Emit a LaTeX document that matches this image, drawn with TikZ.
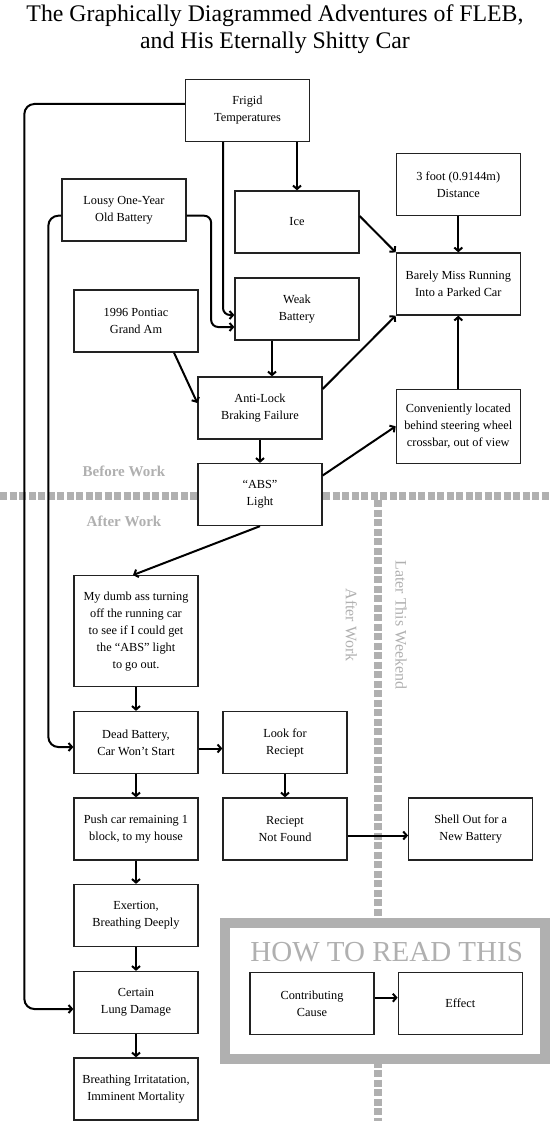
\documentclass[tikz,border=0pt]{standalone}
\usepackage{fontspec}
\setmainfont{Liberation Serif}
\usetikzlibrary{arrows.meta,calc}
\definecolor{fog}{RGB}{176,176,176}
\definecolor{ink}{RGB}{34,34,34}

\begin{document}
\begin{tikzpicture}[x=1pt,y=-1pt,
  box/.style={draw=ink,line width=1.3pt,fill=white,minimum width=124pt,minimum height=62pt,inner sep=0pt,align=center,font=\fontsize{12.3}{17}\selectfont},
  link/.style={line width=2pt,-{Straight Barb[length=3.5pt,width=8pt]}},
  zone/.style={fog,line width=7.5pt,dash pattern=on 7.3pt off 2.2pt},
  tag/.style={text=fog,font=\fontsize{16}{16}\selectfont}]
\useasboundingbox (0,0) rectangle (550,1121);
% title
\node[align=center,font=\fontsize{23.8}{27.5}\selectfont] (title) at (275,29) {The Graphically Diagrammed Adventures of FLEB,\\and His Eternally Shitty Car};
% time zones
\draw[zone] (0,496) -- (550,496);
\draw[zone] (378,500) -- (378,1121);
\node[tag,font=\fontsize{15}{15}\bfseries] (before) at (124,471) {Before Work};
\node[tag,font=\fontsize{15}{15}\bfseries] (after) at (124,521) {After Work};
\node[tag,rotate=-90] (afterv) at (351.5,625) {After Work};
\node[tag,rotate=-90] (later) at (401,625) {Later This Weekend};
% causes and effects
\foreach \n/\x/\y/\t in {frigid/247.5/110.5/{Frigid\\Temperatures},lousy/124/210/{Lousy One-Year\\Old Battery},
  ice/297/222/{Ice},dist/458.3/184.5/{3 foot (0.9144m)\\Distance},barely/458.3/284/{Barely Miss Running\\Into a Parked Car},
  weak/297/309/{Weak\\Battery},pontiac/136/321/{1996 Pontiac\\Grand Am},antilock/260/408/{Anti-Lock\\Braking Failure},
  abs/260/494.5/{``ABS''\\Light},dead/136/742.5/{Dead Battery,\\Car Won't Start},look/285/742.5/{Look for\\Reciept},
  push/136/829/{Push car remaining 1\\block, to my house},notfound/285/829/{Reciept\\Not Found},shell/470.7/829/{Shell Out for a\\New Battery},
  exert/136/915.5/{Exertion,\\Breathing Deeply},lung/136/1002.5/{Certain\\Lung Damage},breath/136/1089/{Breathing Irritatation,\\Imminent Mortality}}
  \node[box] (\n) at (\x,\y) {\t};
\node[box,minimum height=74pt] (conv) at (458.3,426.3) {Conveniently located\\behind steering wheel\\crossbar, out of view};
\node[box,minimum height=111pt] (dumb) at (136,631.2) {My dumb ass turning\\off the running car\\to see if I could get\\the ``ABS'' light\\to go out.};
% legend
\draw[fog,line width=10pt,fill=white] (225,922.5) rectangle (545,1059);
\node[text=fog,font=\fontsize{29}{29}\selectfont,anchor=base] (howto) at (386.7,961.7) {HOW TO READ THIS};
\node[box] (cause) at (312,1003.7) {Contributing\\Cause};
\node[box] (effect) at (460.3,1003.7) {Effect};
% links
\foreach \a/\b in {antilock/abs,dumb/dead,dead/push,push/exert,exert/lung,lung/breath,look/notfound,dist/barely,conv/barely}
  \draw[link] (\a) -- (\b);
\draw[link,rounded corners=10] ($(frigid.west)+(0,-6.5)$) -- ++(-160.5,0) |- ($(lung.west)+(0,6.5)$);
\draw[link,rounded corners=10] ($(lousy.west)+(0,5.7)$) -- ++(-13,0) |- ($(dead.west)+(0,4.5)$);
\draw[link,rounded corners=7] ($(lousy.east)+(0,5.7)$) -- ++(24.5,0) |- ($(weak.west)+(0,18)$);
\draw[link,rounded corners=7] ($(frigid.south)+(-24.5,0)$) |- ($(weak.west)+(0,6)$);
\draw[link] (frigid.south -| ice.north) -- (ice.north);
\draw[link] ($(ice.east)+(0,-6)$) -- (barely.north west);
\draw[link] ($(weak.south)+(-25,0)$) -- ($(antilock.north)+(12,0)$);
\draw[link] ($(pontiac.south)+(38,0)$) -- ($(antilock.west)+(0,-5)$);
\draw[link] ($(antilock.east)+(0,-19)$) -- (barely.south west);
\draw[link] ($(abs.east)+(0,-19)$) -- (conv.west);
\draw[link] (abs.south) -- ($(dumb.north)+(-3,0)$);
\draw[link] ($(dead.east)+(0,6)$) -- ($(look.west)+(0,6)$);
\draw[link] ($(notfound.east)+(0,6.5)$) -- ($(shell.west)+(0,6.5)$);
\draw[link] ($(cause.east)+(0,-6)$) -- ($(effect.west)+(0,-6)$);
\end{tikzpicture}
\end{document}
